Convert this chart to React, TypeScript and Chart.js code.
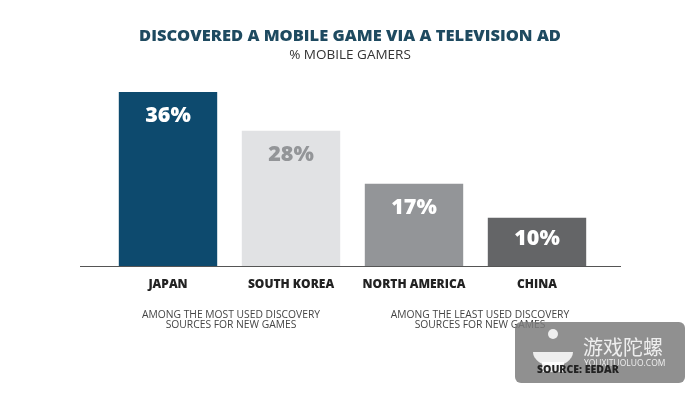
import React, { useEffect, useRef } from "react";
import { Chart, registerables } from "chart.js";

Chart.register(...registerables);

const categories = ["JAPAN", "SOUTH KOREA", "NORTH AMERICA", "CHINA"];
const values = [36, 28, 17, 10];
const valueLabels = ["36%", "28%", "17%", "10%"];
const barColors = ["#0d4a6e", "#e1e2e4", "#939598", "#646567"];
const labelColors = ["#ffffff", "#939598", "#ffffff", "#ffffff"];
const title = "DISCOVERED A MOBILE GAME VIA A TELEVISION AD";
const subtitle = "% MOBILE GAMERS";
const noteLeft = ["AMONG THE MOST USED DISCOVERY", "SOURCES FOR NEW GAMES"];
const noteRight = ["AMONG THE LEAST USED DISCOVERY", "SOURCES FOR NEW GAMES"];
const source = "SOURCE: EEDAR";

const FONT = "'Open Sans', 'DejaVu Sans', sans-serif";

const decor = {
  id: "decor",
  afterDatasetsDraw(chart: any) {
    const ctx = chart.ctx as CanvasRenderingContext2D;
    const x = chart.scales.x;
    const y = chart.scales.y;
    const base = y.getPixelForValue(0);
    ctx.save();
    // title
    ctx.textAlign = "center";
    ctx.textBaseline = "middle";
    ctx.fillStyle = "#1e4a60";
    ctx.font = `800 16.5px ${FONT}`;
    ctx.fillText(title, 350, 36.5);
    ctx.fillStyle = "#333333";
    ctx.font = `400 13.5px ${FONT}`;
    ctx.fillText(subtitle, 350, 55);
    // axis line
    ctx.strokeStyle = "#555555";
    ctx.lineWidth = 1.2;
    ctx.beginPath();
    ctx.moveTo(80, base + 0.5);
    ctx.lineTo(621, base + 0.5);
    ctx.stroke();
    // value labels and categories
    const meta = chart.getDatasetMeta(0);
    meta.data.forEach((bar: any, i: number) => {
      ctx.fillStyle = labelColors[i];
      ctx.font = `800 21.5px ${FONT}`;
      ctx.fillText(valueLabels[i], bar.x, bar.y + (i === 3 ? 21 : 24));
      ctx.fillStyle = "#222222";
      ctx.font = `800 12px ${FONT}`;
      ctx.fillText(categories[i], x.getPixelForValue(i), base + 19);
    });
    // notes
    ctx.fillStyle = "#444444";
    ctx.font = `400 10.3px ${FONT}`;
    noteLeft.forEach((t, k) => ctx.fillText(t, 231, 315 + k * 10.5));
    noteRight.forEach((t, k) => ctx.fillText(t, 480, 315 + k * 10.5));
    // watermark box
    ctx.fillStyle = "rgba(125,125,125,0.85)";
    const bx = 515, by = 322, bw = 170, bh = 61, r = 6;
    ctx.beginPath();
    ctx.moveTo(bx + r, by);
    ctx.arcTo(bx + bw, by, bx + bw, by + bh, r);
    ctx.arcTo(bx + bw, by + bh, bx, by + bh, r);
    ctx.arcTo(bx, by + bh, bx, by, r);
    ctx.arcTo(bx, by, bx + bw, by, r);
    ctx.closePath();
    ctx.fill();
    // logo shape
    ctx.fillStyle = "rgba(255,255,255,0.85)";
    ctx.beginPath();
    ctx.arc(553, 334, 5, 0, Math.PI * 2);
    ctx.fill();
    ctx.beginPath();
    ctx.ellipse(553, 352, 20, 14, 0, 0, Math.PI);
    ctx.fill();
    ctx.fillRect(542, 362, 22, 10);
    ctx.font = `400 20px 'Noto Sans CJK SC', sans-serif`;
    ctx.textAlign = "left";
    ctx.fillText("游戏陀螺", 583, 347);
    ctx.font = `400 8.5px ${FONT}`;
    ctx.fillText("YOUXITUOLUO.COM", 584, 364);
    ctx.fillStyle = "#222222";
    ctx.font = `800 10.5px ${FONT}`;
    ctx.fillText(source, 537, 370);
    ctx.restore();
  },
};

export default function App() {
  const ref = useRef<HTMLCanvasElement>(null);
  useEffect(() => {
    if (!ref.current) return;
    const chart = new Chart(ref.current, {
      type: "bar",
      data: {
        labels: categories,
        datasets: [
          {
            data: values,
            backgroundColor: barColors,
            barPercentage: 0.8,
            categoryPercentage: 1,
          },
        ],
      },
      options: {
        animation: false,
        responsive: false,
        maintainAspectRatio: false,
        layout: { padding: { left: 106.5, right: 101.5, top: 72.7, bottom: 128 } },
        plugins: { legend: { display: false }, tooltip: { enabled: false }, title: { display: false } },
        scales: {
          x: { display: false },
          y: { display: false, min: 0, max: 40 },
        },
      },
      plugins: [decor],
    });
    return () => chart.destroy();
  }, []);
  return (
    <div style={{ position: "absolute", left: 0, top: 0, width: 700, height: 394, background: "#fff" }}>
      <canvas ref={ref} width={700} height={394} style={{ width: 700, height: 394 }} />
    </div>
  );
}
